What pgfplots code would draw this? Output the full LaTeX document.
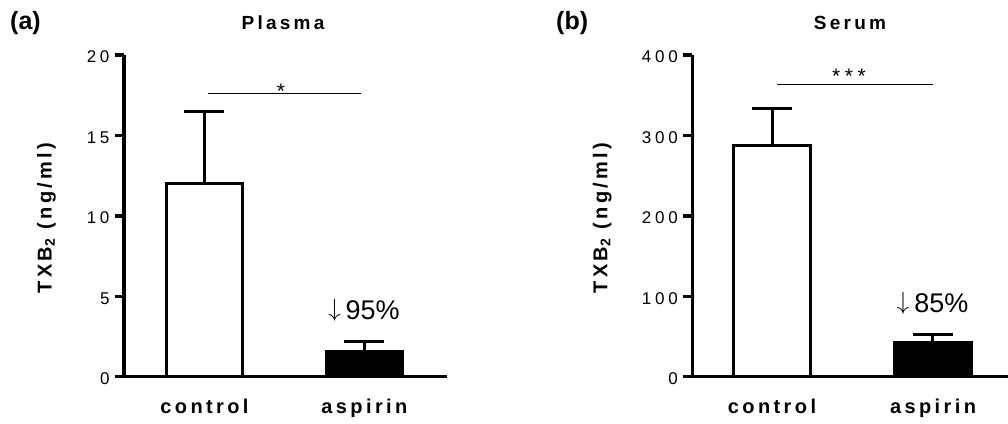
\documentclass[border=0pt]{standalone}
\usepackage{fontspec}
\setmainfont{Liberation Sans}
\newfontfamily\spfont[LetterSpace=17]{Liberation Sans}
\newfontfamily\tickfont[LetterSpace=22]{Liberation Sans}
\usepackage{pgfplots}
\pgfplotsset{compat=1.18}

\pgfplotsset{
  panel/.style={
    scale only axis,
    height=321.7pt,
    anchor=south west,
    ymin=0,
    clip=false,
    axis lines=left,
    axis line style={-, line width=3.5pt},
    xtick={0,1},
    xticklabels={control,aspirin},
    tick align=outside,
    major tick length=9pt,
    xtick style={draw=none},
    ytick style={line width=3.5pt, black},
    /pgf/number format/assume math mode=true,
    yticklabel style={font=\tickfont\fontsize{17}{19}\selectfont, yshift=-2pt, xshift=-2pt},
    xticklabel style={font=\spfont\bfseries\fontsize{20}{24}\selectfont, anchor=base, yshift=-28pt},
  },
  bar/.style={ybar, bar width=#1, bar shift=0pt, draw=black, line width=2.8pt,
    error bars/y dir=plus, error bars/y explicit, error bars/error mark=|,
    error bars/error bar style={line width=3pt, black},
    error bars/error mark options={line width=3pt, black, mark size=20pt}},
}

\begin{document}
\begin{tikzpicture}[x=1pt, y=1pt]
\useasboundingbox (0,0) rectangle (1008,423);

% (a) Plasma
\begin{axis}[panel, at={(124pt,46.3pt)}, width=323pt,
  xmin=-0.503, xmax=1.516, ymax=20, ytick={0,5,10,15,20}]
\addplot[bar=76.5pt, fill=white] coordinates {(0,12) +- (0,4.5)};
\addplot[bar=76.5pt, fill=black] coordinates {(1,1.6) +- (0,0.6)};
\draw[line width=1.2pt] (axis cs:0.02,17.6) -- (axis cs:0.98,17.6);
\end{axis}

% (b) Serum
\begin{axis}[panel, at={(692.3pt,46.3pt)}, width=315.7pt,
  xmin=-0.495, xmax=1.466, ymax=400, ytick={0,100,200,300,400}]
\addplot[bar=77pt, fill=white] coordinates {(0,287) +- (0,47)};
\addplot[bar=77pt, fill=black] coordinates {(1,43) +- (0,9)};
\draw[line width=1.2pt] (axis cs:0.03,363) -- (axis cs:1.0,363);
\end{axis}

% panel letters and titles
\node[anchor=base west, inner sep=0, font=\bfseries\fontsize{25}{28}\selectfont] at (10,393) {(a)};
\node[anchor=base west, inner sep=0, font=\bfseries\fontsize{25}{28}\selectfont] at (556,393) {(b)};
\node[anchor=base, inner sep=0, font=\spfont\bfseries\fontsize{19}{21}\selectfont] at (283,393.7) {Plasma};
\node[anchor=base, inner sep=0, font=\spfont\bfseries\fontsize{19}{21}\selectfont] at (850,393.7) {Serum};

% y labels
\node[rotate=90, anchor=base, inner sep=0, font=\spfont\bfseries\fontsize{20}{24}\selectfont] at (51.7,205) {TXB\textsubscript{2} (ng/ml)};
\node[rotate=90, anchor=base, inner sep=0, font=\spfont\bfseries\fontsize{20}{24}\selectfont] at (607.3,205) {TXB\textsubscript{2} (ng/ml)};

% significance stars
\node[anchor=base, inner sep=0, font=\spfont\fontsize{21}{24}\selectfont] at (281,324.5) {*};
\node[anchor=base, inner sep=0, font=\tickfont\fontsize{21}{24}\selectfont] at (849,339.5) {***};

% reduction labels
\node[anchor=base, inner sep=0, font=\fontsize{27}{30}\selectfont] at (364,103.7) {\raisebox{3pt}{$\downarrow$}\hspace{5pt}95\%};
\node[anchor=base, inner sep=0, font=\fontsize{27}{30}\selectfont] at (932.7,110.3) {\raisebox{3pt}{$\downarrow$}\hspace{5pt}85\%};
\end{tikzpicture}
\end{document}
